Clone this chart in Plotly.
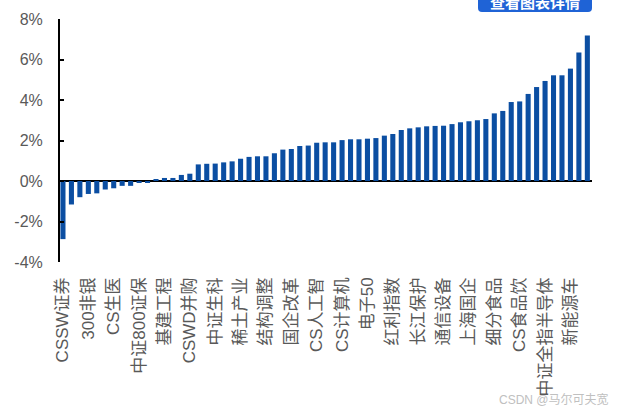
import plotly.graph_objects as go

tick_labels = ["CSSW证券", "300非银", "CS生医", "中证800证保", "基建工程", "CSWD并购",
               "中证生科", "稀土产业", "结构调整", "国企改革", "CS人工智", "CS计算机",
               "电子50", "红利指数", "长江保护", "通信设备", "上海国企", "细分食品",
               "CS食品饮", "中证全指半导体", "新能源车"]

values = [-2.87, -1.16, -0.80, -0.64, -0.61, -0.42, -0.36, -0.24, -0.24, -0.07, -0.06,
          0.08, 0.15, 0.15, 0.30, 0.36, 0.82, 0.85, 0.86, 0.92, 0.97,
          1.10, 1.19, 1.22, 1.22, 1.37, 1.55, 1.58, 1.73, 1.75, 1.89,
          1.91, 1.91, 2.02, 2.06, 2.06, 2.09, 2.12, 2.24, 2.32, 2.52,
          2.60, 2.65, 2.70, 2.72, 2.73, 2.81, 2.90, 2.95, 3.00, 3.06,
          3.34, 3.46, 3.90, 3.93, 4.30, 4.64, 4.94, 5.22, 5.22, 5.55,
          6.35, 7.19]

positions = list(range(len(values)))
tick_positions = positions[::3]

y_ticks = [-4, -2, 0, 2, 4, 6, 8]
y_tick_text = ["-4%", "-2%", "0%", "2%", "4%", "6%", "8%"]

fig = go.Figure(go.Bar(
    x=positions, y=values,
    marker=dict(color="#0b4ea2", line=dict(width=0)),
    width=0.6,
))

W, H = 619, 411
L, R, T, B = 60, 27, 19, 149
pw, ph = W - L - R, H - T - B

def px(x):
    return (x - L) / pw

def py(y):
    return (H - B - y) / ph

fig.update_layout(
    width=W, height=H,
    margin=dict(l=L, r=R, t=T, b=B, autoexpand=False),
    paper_bgcolor="white", plot_bgcolor="white",
    showlegend=False,
    font=dict(family="Liberation Sans, Noto Sans CJK SC, sans-serif", color="#595959"),
    xaxis=dict(
        range=[-0.35, 62.55], automargin=False,
        tickmode="array", tickvals=tick_positions, ticktext=tick_labels,
        tickangle=-90, showgrid=False, zeroline=False, showline=False,
        ticks="", ticklabelstandoff=11,
        tickfont=dict(size=17, color="#595959",
                      family="Liberation Sans, Noto Sans CJK SC, sans-serif"),
    ),
    yaxis=dict(
        range=[-4, 8], automargin=False,
        tickmode="array", tickvals=y_ticks, ticktext=y_tick_text,
        showgrid=False, zeroline=True, zerolinecolor="black", zerolinewidth=2,
        showline=True, linecolor="black", linewidth=2,
        ticks="inside", ticklen=4, tickwidth=2, tickcolor="black",
        ticklabelstandoff=12,
        tickfont=dict(size=16, color="#595959", family="Liberation Sans, Arial, sans-serif"),
    ),
    bargap=0.4,
)

# button overlay (partly cut off at the top)
x0, x1, y0, y1 = 478, 592, -10, 12
r = 4
path = (f"M {px(x0)},{py(y0)} L {px(x1)},{py(y0)} L {px(x1)},{py(y1 - r)} "
        f"Q {px(x1)},{py(y1)} {px(x1 - r)},{py(y1)} L {px(x0 + r)},{py(y1)} "
        f"Q {px(x0)},{py(y1)} {px(x0)},{py(y1 - r)} Z")
fig.add_shape(type="path", path=path, xref="paper", yref="paper",
              fillcolor="#1f63d6", line=dict(width=0), layer="above")
fig.add_annotation(text="<b>查看图表详情</b>", xref="paper", yref="paper",
                   x=px(535), y=py(2), xanchor="center", yanchor="middle",
                   showarrow=False, font=dict(size=15, color="white",
                                              family="Noto Sans CJK SC, sans-serif"))

fig.add_annotation(text="CSDN @马尔可夫宽", xref="paper", yref="paper",
                   x=px(611), y=py(399), xanchor="right", yanchor="middle",
                   showarrow=False, font=dict(size=12, color="#c0c0c0",
                                              family="Liberation Sans, Noto Sans CJK SC, sans-serif"))

fig.write_html("out.html", config={"displayModeBar": False},
               post_script="document.body.style.margin='0';document.body.style.overflow='hidden';")
